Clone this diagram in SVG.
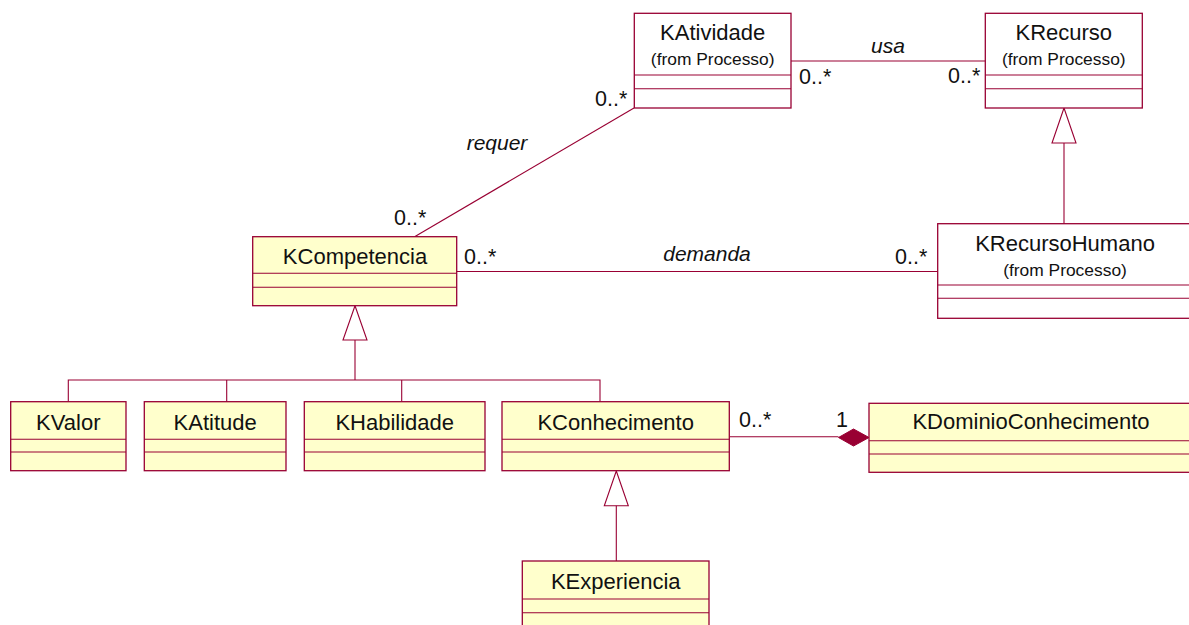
<svg xmlns="http://www.w3.org/2000/svg" width="1189" height="625" viewBox="0 0 1189 625">
  <style>
    .box { stroke: #990033; stroke-width: 1.3; }
    .cls { fill: #FFFFCC; }
    .ext { fill: #FFFFFF; }
    .sep { stroke: #990033; stroke-width: 1.1; fill: none; }
    .edge { stroke: #990033; stroke-width: 1.1; fill: none; }
    .name { font-family: "Liberation Sans", Arial, sans-serif; font-size: 22px; fill: #111111; text-anchor: middle; }
    .from { font-family: "Liberation Sans", Arial, sans-serif; font-size: 17.4px; fill: #111111; text-anchor: middle; }
    .mult { font-family: "Liberation Sans", Arial, sans-serif; font-size: 21.5px; fill: #111111; }
    .role { font-family: "Liberation Sans", Arial, sans-serif; font-size: 21px; font-style: italic; fill: #111111; text-anchor: middle; }
  </style>
  <rect width="1189" height="625" fill="#FFFFFF"/>

  <!-- connectors -->
  <g id="connectors">
    <!-- usa -->
    <line class="edge" x1="791" y1="61" x2="985" y2="61"/>
    <text class="role" x="888" y="53">usa</text>
    <text class="mult" x="799" y="84">0..*</text>
    <text class="mult" x="948" y="83">0..*</text>
    <!-- requer -->
    <line class="edge" x1="415" y1="236.5" x2="634" y2="108"/>
    <text class="role" x="497" y="150">requer</text>
    <text class="mult" x="595" y="106">0..*</text>
    <text class="mult" x="394" y="225">0..*</text>
    <!-- demanda -->
    <line class="edge" x1="457" y1="271.5" x2="938" y2="271.5"/>
    <text class="role" x="707" y="261">demanda</text>
    <text class="mult" x="464" y="264">0..*</text>
    <text class="mult" x="895" y="264">0..*</text>
    <!-- KRecursoHumano generalizes KRecurso -->
    <line class="edge" x1="1064" y1="143" x2="1064" y2="224"/>
    <polygon class="edge" fill="#FFFFFF" points="1064,108 1052,143 1076,143"/>
    <!-- KCompetencia specializations -->
    <polyline class="edge" points="68.3,401.7 68.3,380 600,380 600,401.7"/>
    <line class="edge" x1="226.7" y1="380" x2="226.7" y2="401.7"/>
    <line class="edge" x1="401.7" y1="380" x2="401.7" y2="401.7"/>
    <line class="edge" x1="355" y1="340" x2="355" y2="380"/>
    <polygon class="edge" fill="#FFFFFF" points="355,305.7 343,340 367,340"/>
    <!-- KExperiencia generalizes KConhecimento -->
    <line class="edge" x1="616.3" y1="505.7" x2="616.3" y2="561"/>
    <polygon class="edge" fill="#FFFFFF" points="616.3,471 604.3,505.7 628.3,505.7"/>
    <!-- composition KConhecimento - KDominioConhecimento -->
    <line class="edge" x1="729.5" y1="436.7" x2="838.5" y2="436.7"/>
    <polygon fill="#990033" stroke="#990033" stroke-width="1" points="838.5,437.5 853.5,429 869,437.5 853.5,446"/>
    <text class="mult" x="739" y="427">0..*</text>
    <text class="mult" x="836" y="427">1</text>
  </g>

  <!-- classes -->
  <g id="KAtividade">
    <rect class="box ext" x="634.3" y="13.3" width="156.7" height="94.7"/>
    <line class="sep" x1="634.3" y1="75" x2="791" y2="75"/>
    <line class="sep" x1="634.3" y1="88.7" x2="791" y2="88.7"/>
    <text class="name" x="712.7" y="40">KAtividade</text>
    <text class="from" x="712.7" y="65">(from Processo)</text>
  </g>

  <g id="KRecurso">
    <rect class="box ext" x="985.3" y="13.3" width="157" height="94.7"/>
    <line class="sep" x1="985.3" y1="75" x2="1142.3" y2="75"/>
    <line class="sep" x1="985.3" y1="88.7" x2="1142.3" y2="88.7"/>
    <text class="name" x="1063.8" y="40">KRecurso</text>
    <text class="from" x="1063.8" y="65">(from Processo)</text>
  </g>

  <g id="KRecursoHumano">
    <rect class="box ext" x="937.7" y="223.7" width="256" height="94.6"/>
    <line class="sep" x1="937.7" y1="285" x2="1193.7" y2="285"/>
    <line class="sep" x1="937.7" y1="298.3" x2="1193.7" y2="298.3"/>
    <text class="name" x="1065" y="251">KRecursoHumano</text>
    <text class="from" x="1065" y="276">(from Processo)</text>
  </g>

  <g id="KCompetencia">
    <rect class="box cls" x="252.7" y="236.7" width="204" height="69"/>
    <line class="sep" x1="252.7" y1="273.3" x2="456.7" y2="273.3"/>
    <line class="sep" x1="252.7" y1="287.3" x2="456.7" y2="287.3"/>
    <text class="name" x="355" y="263.5">KCompetencia</text>
  </g>

  <g id="KValor">
    <rect class="box cls" x="10.7" y="401.7" width="115.3" height="69"/>
    <line class="sep" x1="10.7" y1="439.3" x2="126" y2="439.3"/>
    <line class="sep" x1="10.7" y1="452" x2="126" y2="452"/>
    <text class="name" x="68.3" y="429.5">KValor</text>
  </g>

  <g id="KAtitude">
    <rect class="box cls" x="144.3" y="401.7" width="141.7" height="69"/>
    <line class="sep" x1="144.3" y1="439.3" x2="286" y2="439.3"/>
    <line class="sep" x1="144.3" y1="452" x2="286" y2="452"/>
    <text class="name" x="215.2" y="429.5">KAtitude</text>
  </g>

  <g id="KHabilidade">
    <rect class="box cls" x="304.3" y="401.7" width="180.7" height="69"/>
    <line class="sep" x1="304.3" y1="439.3" x2="485" y2="439.3"/>
    <line class="sep" x1="304.3" y1="452" x2="485" y2="452"/>
    <text class="name" x="394.7" y="429.5">KHabilidade</text>
  </g>

  <g id="KConhecimento">
    <rect class="box cls" x="502" y="401.7" width="227.3" height="69"/>
    <line class="sep" x1="502" y1="439.3" x2="729.3" y2="439.3"/>
    <line class="sep" x1="502" y1="452" x2="729.3" y2="452"/>
    <text class="name" x="615.7" y="429.5">KConhecimento</text>
  </g>

  <g id="KDominioConhecimento">
    <rect class="box cls" x="869" y="403.3" width="325" height="69"/>
    <line class="sep" x1="869" y1="440.7" x2="1194" y2="440.7"/>
    <line class="sep" x1="869" y1="454" x2="1194" y2="454"/>
    <text class="name" x="1031" y="428.5">KDominioConhecimento</text>
  </g>

  <g id="KExperiencia">
    <rect class="box cls" x="522.3" y="561" width="186.7" height="69"/>
    <line class="sep" x1="522.3" y1="599" x2="709" y2="599"/>
    <line class="sep" x1="522.3" y1="612.7" x2="709" y2="612.7"/>
    <text class="name" x="615.7" y="588.5">KExperiencia</text>
  </g>
</svg>
